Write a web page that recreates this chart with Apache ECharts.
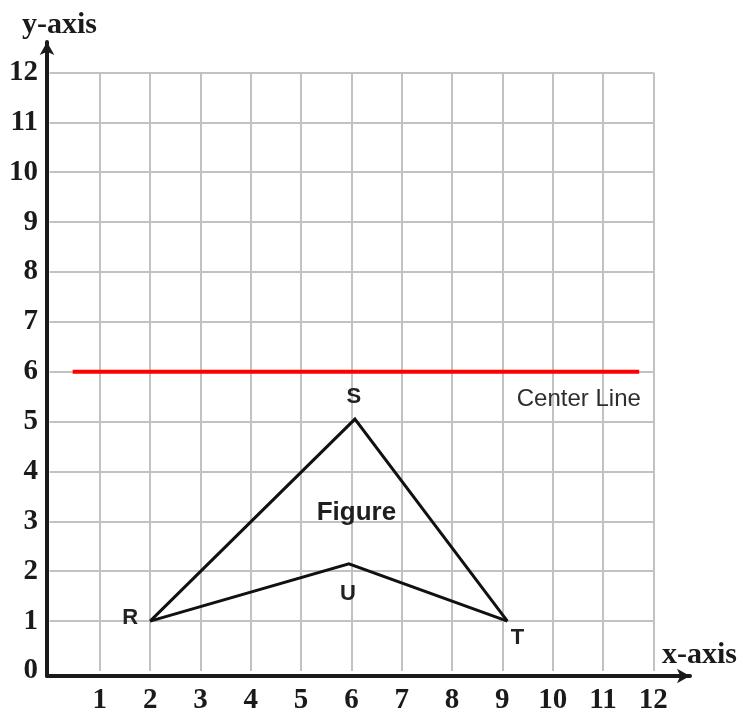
<!DOCTYPE html>
<html><head><meta charset="utf-8">
<script src="https://cdn.jsdelivr.net/npm/echarts@6/dist/echarts.min.js"></script>
<style>html,body{margin:0;padding:0;background:#fff}#c{width:743px;height:715px}</style>
</head><body><div id="c"></div><script>
// ---- data ----
const xTickLabels = [1,2,3,4,5,6,7,8,9,10,11,12];
const yTickLabels = [0,1,2,3,4,5,6,7,8,9,10,11,12];
const gridXValues = [1,2,3,4,5,6,7,8,9,10,11,12];
const gridYValues = [1,2,3,4,5,6,7,8,9,10,11,12];
const gridExtent = [0, 12];
const pointR = [2, 1];
const pointS = [6.07, 5.05];
const pointT = [9.1, 1];
const pointU = [5.95, 2.15];
const centerLineY = 6;
const centerLineX = [0.46, 11.72];
const figureLabelAt = [6.1, 3.17];
const centerLabelAt = [10.52, 5.44];

const serif = '"Liberation Serif","Times New Roman",serif';
const sans = '"Liberation Sans",Arial,sans-serif';

const gridLines = [];
gridXValues.forEach(v => gridLines.push([{coord:[v, gridExtent[0]]},{coord:[v, gridExtent[1]]}]));
gridYValues.forEach(v => gridLines.push([{coord:[gridExtent[0], v]},{coord:[gridExtent[1], v]}]));

function ptLabel(name, off){
  return {show:true, formatter:name, position:'inside', offset:off,
    fontFamily:sans, fontSize:22, fontWeight:'bold', color:'#222',
    textBorderWidth:0, textBorderColor:'transparent'};
}

const chart = echarts.init(document.getElementById('c'), null, {renderer:'canvas'});
chart.setOption({
  animation:false,
  backgroundColor:'#fff',
  grid:{left:47, right:53, top:42, bottom:35},
  xAxis:{type:'value', min:-0.05, max:12.73,
    axisLine:{show:true, onZero:false, symbol:['none','arrow'], symbolSize:[11,13],
      lineStyle:{color:'#1a1a1a', width:4}},
    axisTick:{show:false}, splitLine:{show:false},
    axisLabel:{customValues:xTickLabels, margin:10, fontFamily:serif, fontSize:29, fontWeight:'bold', color:'#1a1a1a'}
  },
  yAxis:{type:'value', min:-0.1, max:12.61,
    axisLine:{show:true, onZero:false, symbol:['none','arrow'], symbolSize:[11,13],
      lineStyle:{color:'#1a1a1a', width:4}},
    axisTick:{show:false}, splitLine:{show:false},
    axisLabel:{customValues:yTickLabels, margin:9, fontFamily:serif, fontSize:29, fontWeight:'bold', color:'#1a1a1a'}
  },
  graphic:[
    {type:'text', x:22, y:25, style:{text:'y-axis', font:'bold 30px '+serif, fill:'#1a1a1a', verticalAlign:'middle'}},
    {type:'text', x:662, y:655, style:{text:'x-axis', font:'bold 30px '+serif, fill:'#1a1a1a', verticalAlign:'middle'}}
  ],
  series:[
    {type:'line', data:[], silent:true, z:1,
      markLine:{silent:true, z:1, symbol:['none','none'], label:{show:false},
        lineStyle:{color:'#c4c2bf', width:2, type:'solid'}, data:gridLines}},
    {type:'line', data:[[centerLineX[0], centerLineY],[centerLineX[1], centerLineY]],
      symbol:'none', lineStyle:{color:'#ff0000', width:4}, z:6},
    {type:'line', data:[
        {value:pointR, label:ptLabel('R',[-20,-3])},
        {value:pointS, label:ptLabel('S',[-1,-22])},
        {value:pointT, label:ptLabel('T',[10,17])}],
      symbol:'circle', symbolSize:0.1, lineStyle:{color:'#111', width:3, join:'miter'}, z:7},
    {type:'line', data:[
        {value:pointR},
        {value:pointU, label:ptLabel('U',[-1,30])},
        {value:pointT}],
      symbol:'circle', symbolSize:0.1, lineStyle:{color:'#111', width:3, join:'miter'}, z:7},
    {type:'scatter', symbolSize:0, z:8, itemStyle:{opacity:1}, data:[
        {value:figureLabelAt, label:{show:true, formatter:'Figure', position:'inside', fontFamily:sans, fontSize:26, fontWeight:'bold', color:'#1e1e1e', opacity:1, textBorderWidth:0, textBorderColor:'transparent'}},
        {value:centerLabelAt, label:{show:true, formatter:'Center Line', position:'inside', fontFamily:sans, fontSize:24, color:'#2e2e2e', opacity:1, textBorderWidth:0, textBorderColor:'transparent'}}
      ]}
  ]
});
</script></body></html>
